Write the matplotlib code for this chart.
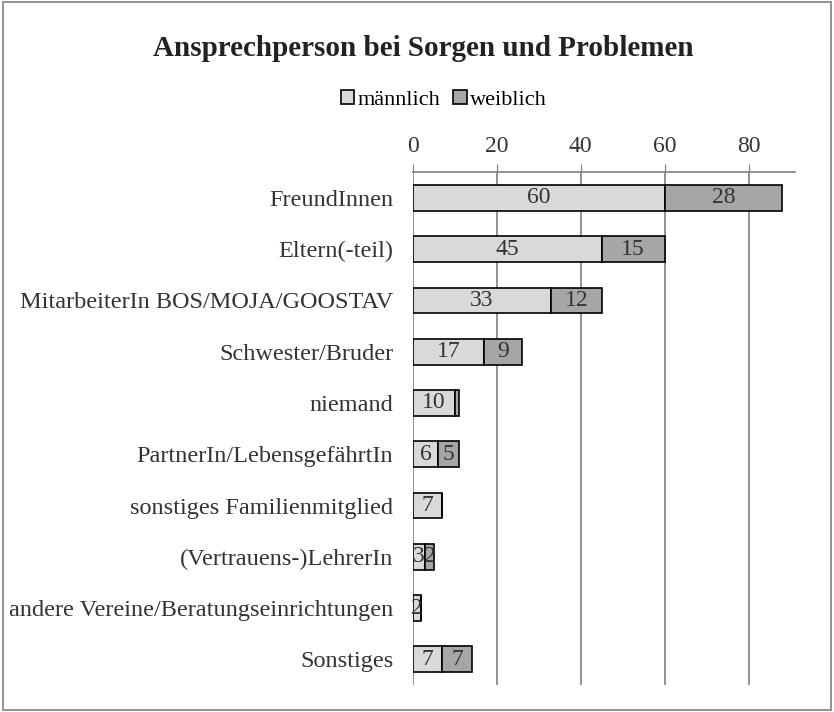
import numpy as np
import matplotlib.pyplot as plt
from matplotlib.patches import Rectangle

plt.rcParams['font.family'] = ['Liberation Serif', 'DejaVu Serif']

# Data
categories = ['FreundInnen', 'Eltern(-teil)', 'MitarbeiterIn BOS/MOJA/GOOSTAV',
              'Schwester/Bruder', 'niemand', 'PartnerIn/LebensgefährtIn',
              'sonstiges Familienmitglied', '(Vertrauens-)LehrerIn',
              'andere Vereine/Beratungseinrichtungen', 'Sonstiges']
maennlich = [60, 45, 33, 17, 10, 6, 7, 3, 2, 7]
weiblich = [28, 15, 12, 9, 1, 5, 0, 2, 0, 7]
ticks = [0, 20, 40, 60, 80]

fig = plt.figure(figsize=(8.34, 7.12), dpi=100)
ax = fig.add_axes([0.495, 0.038, 0.458, 0.72])

y = np.arange(len(categories))
m = np.array(maennlich)
w = np.array(weiblich)
ax.barh(y, m, height=0.5, color='#d9d9d9', edgecolor='black', linewidth=1.2,
        label='männlich', zorder=3)
ax.barh(y, w, left=m, height=0.5, color='#a6a6a6', edgecolor='black', linewidth=1.2,
        label='weiblich', zorder=3)

# value labels
for i in range(len(categories)):
    if m[i] > 0:
        ax.text(m[i] / 2, y[i], str(m[i]), ha='center', va='center', fontsize=17,
                color='#333333', zorder=4)
    if w[i] > 1:
        ax.text(m[i] + w[i] / 2, y[i], str(w[i]), ha='center', va='center', fontsize=17,
                color='#333333', zorder=4)

ax.set_xlim(0, 91)
ax.set_ylim(len(categories) - 0.5, -0.5)
ax.set_xticks(ticks)
ax.xaxis.tick_top()
ax.tick_params(axis='x', direction='out', length=6, color='#808080', labelsize=17,
               pad=5, labelcolor='#333333')
ax.set_yticks(y)
ax.set_yticklabels(categories, fontsize=17.5, color='#333333')
ax.tick_params(axis='y', length=0, pad=14)
ax.grid(axis='x', color='#808080', linewidth=1.2, zorder=0)
for s in ['right', 'bottom', 'left']:
    ax.spines[s].set_visible(False)
ax.spines['top'].set_color('#808080')
ax.spines['top'].set_linewidth(1.2)

fig.text(0.507, 0.932, 'Ansprechperson bei Sorgen und Problemen', ha='center',
         va='center', fontsize=21, fontweight='bold', color='#222222')
fig.legend(loc='center', bbox_to_anchor=(0.532, 0.86), ncol=2, frameon=False,
           fontsize=16, handlelength=0.6, handleheight=0.6, handletextpad=0.15,
           columnspacing=0.6)

fig.patches.append(Rectangle((0.003, 0.003), 0.994, 0.994, transform=fig.transFigure,
                             fill=False, edgecolor='#808080', linewidth=1.2))

fig.savefig('out.png', dpi=100)
